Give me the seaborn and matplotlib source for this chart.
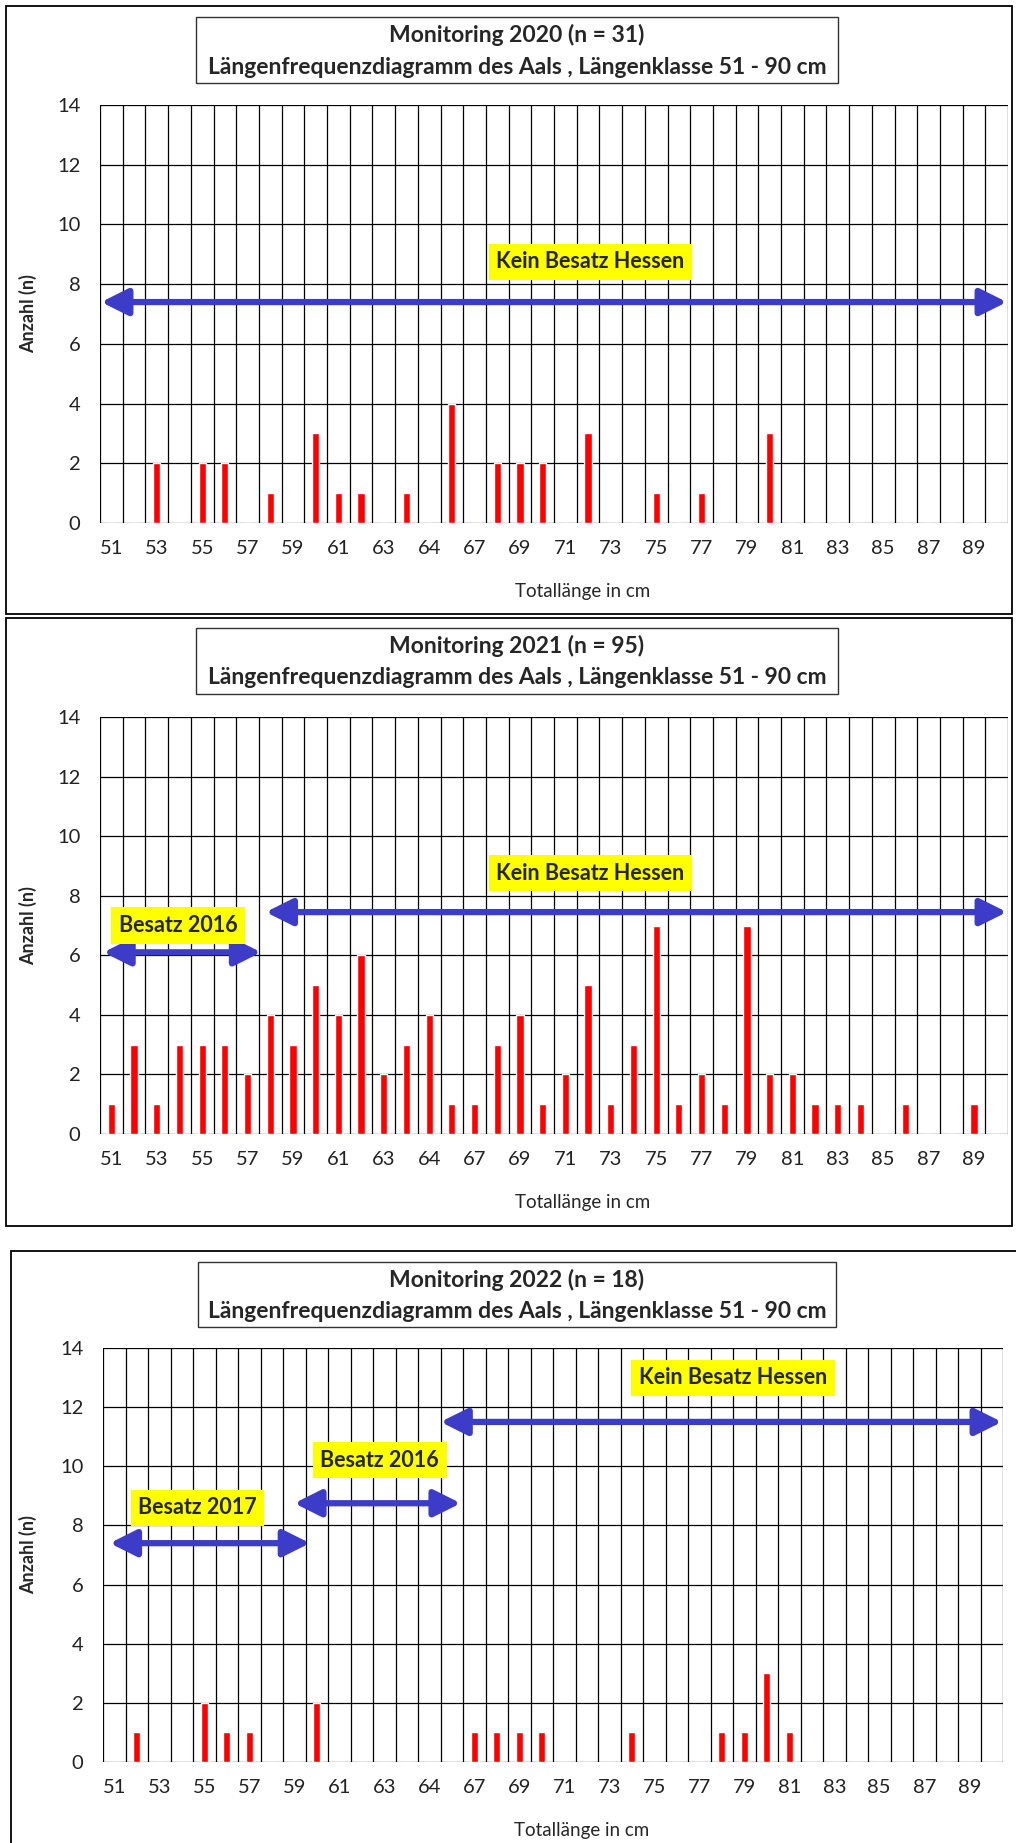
import numpy as np
import pandas as pd
import matplotlib
matplotlib.use('Agg')
import matplotlib.pyplot as plt
import seaborn as sns
from matplotlib.patches import Rectangle

# Längenklassen 51 - 90 cm
lengths = list(range(51, 91))
# tick labels as printed in the original (note the "64" in place of 65)
tick_labels = ['51', '53', '55', '57', '59', '61', '63', '64', '67', '69',
               '71', '73', '75', '77', '79', '81', '83', '85', '87', '89']

counts_2020 = [0, 0, 2, 0, 2, 2, 0, 1, 0, 3,
               1, 1, 0, 1, 0, 4, 0, 2, 2, 2,
               0, 3, 0, 0, 1, 0, 1, 0, 0, 3,
               0, 0, 0, 0, 0, 0, 0, 0, 0, 0]
counts_2021 = [1, 3, 1, 3, 3, 3, 2, 4, 3, 5,
               4, 6, 2, 3, 4, 1, 1, 3, 4, 1,
               2, 5, 1, 3, 7, 1, 2, 1, 7, 2,
               2, 1, 1, 1, 0, 1, 0, 0, 1, 0]
counts_2022 = [0, 1, 0, 0, 2, 1, 1, 0, 0, 2,
               0, 0, 0, 0, 0, 0, 1, 1, 1, 1,
               0, 0, 0, 1, 0, 0, 0, 1, 1, 3,
               1, 0, 0, 0, 0, 0, 0, 0, 0, 0]

years = [2020, 2021, 2022]
sample_sizes = [31, 95, 18]

# (label, x, y) yellow boxes and (x0, x1, y) arrows per year
labels_2020 = [('Kein Besatz Hessen', 21.1, 8.75)]
arrows_2020 = [(-0.45, 39.45, 7.4)]
labels_2021 = [('Kein Besatz Hessen', 21.1, 8.75), ('Besatz 2016', 2.95, 7.0)]
arrows_2021 = [(6.8, 39.45, 7.45), (-0.35, 6.6, 6.1)]
labels_2022 = [('Kein Besatz Hessen', 27.5, 13.0), ('Besatz 2016', 11.8, 10.2),
               ('Besatz 2017', 3.7, 8.6)]
arrows_2022 = [(14.5, 39.45, 11.5), (8.0, 15.4, 8.75), (-0.2, 8.7, 7.4)]

W, H = 1016, 1843
sns.set_style('white')
plt.rcParams['font.family'] = ['Lato', 'DejaVu Sans']

fig = plt.figure(figsize=(W / 100, H / 100), dpi=100)


def fx(x):
    return x / W


def fy(y):
    return 1 - y / H


# pixel layout: panel border, title box, axes box (left, top, right, bottom)
layout = [
    dict(border=(6, 6, 1012, 614), tbox=(196, 17, 838, 83), ax=(100, 105, 1008, 523)),
    dict(border=(6, 618, 1012, 1226), tbox=(196, 628, 838, 694), ax=(100, 717, 1008, 1134)),
    dict(border=(11, 1251, 1030, 1900), tbox=(198, 1262, 836, 1327), ax=(103, 1348, 1003, 1762)),
]
all_counts = [counts_2020, counts_2021, counts_2022]
all_labels = [labels_2020, labels_2021, labels_2022]
all_arrows = [arrows_2020, arrows_2021, arrows_2022]
blue = '#3C3CC8'

for i, lay in enumerate(layout):
    l, t, r, b = lay['border']
    fig.add_artist(Rectangle((fx(l), fy(b)), (r - l) / W, (b - t) / H,
                             transform=fig.transFigure, fill=False,
                             ec='black', lw=1.3))
    l, t, r, b = lay['tbox']
    fig.add_artist(Rectangle((fx(l), fy(b)), (r - l) / W, (b - t) / H,
                             transform=fig.transFigure, fill=False,
                             ec='#333333', lw=1.0))
    cx = (l + r) / 2
    fig.text(fx(cx), fy(t + 18), f'Monitoring {years[i]} (n = {sample_sizes[i]})',
             ha='center', va='center', fontsize=16.5, fontweight='bold')
    fig.text(fx(cx), fy(t + 50), 'Längenfrequenzdiagramm des Aals , Längenklasse 51 - 90 cm',
             ha='center', va='center', fontsize=16.5, fontweight='bold')

    l, t, r, b = lay['ax']
    ax = fig.add_axes([fx(l), fy(b), (r - l) / W, (b - t) / H])
    df = pd.DataFrame({'Länge': lengths, 'Anzahl': all_counts[i]})
    sns.barplot(data=df, x='Länge', y='Anzahl', order=lengths, color='#FF0000',
                saturation=1, width=0.32, ax=ax, zorder=3)
    ax.set_xlim(-0.5, 39.5)
    ax.set_ylim(0, 14)
    ax.set_xticks(range(0, 40, 2))
    ax.set_xticklabels(tick_labels)
    ax.set_xticks(np.arange(-0.5, 40, 1), minor=True)
    ax.set_yticks(range(0, 15, 2))
    ax.grid(which='minor', axis='x', color='black', lw=0.9)
    ax.grid(which='major', axis='y', color='black', lw=0.9)
    ax.grid(which='major', axis='x', visible=False)
    ax.tick_params(which='both', length=0)
    ax.tick_params(axis='x', pad=12, labelsize=14.5, labelcolor='#222222')
    ax.tick_params(axis='y', pad=14, labelsize=14.5, labelcolor='#222222')
    ax.set_xlabel('')
    ax.set_ylabel('')
    for s in ax.spines.values():
        s.set_visible(False)
    ax.text(0.532, -0.165, 'Totallänge in cm', transform=ax.transAxes,
            ha='center', va='center', fontsize=13.5)
    fig.text(fx(28), fy((t + b) / 2), 'Anzahl (n)', rotation=90,
             ha='center', va='center', fontsize=13, fontweight='bold')

    for x0, x1, y in all_arrows[i]:
        ax.annotate('', xy=(x1, y), xytext=(x0, y),
                    arrowprops=dict(arrowstyle='<|-|>,head_length=1.6,head_width=0.8',
                                    color=blue, lw=4.5, shrinkA=0, shrinkB=0,
                                    mutation_scale=10),
                    zorder=5)
    for txt, x, y in all_labels[i]:
        ax.text(x, y, txt, ha='center', va='center', fontsize=15.5,
                fontweight='bold', zorder=6,
                bbox=dict(boxstyle='square,pad=0.35', fc='#FFFF00', ec='none'))

fig.savefig('out.png', dpi=100)
